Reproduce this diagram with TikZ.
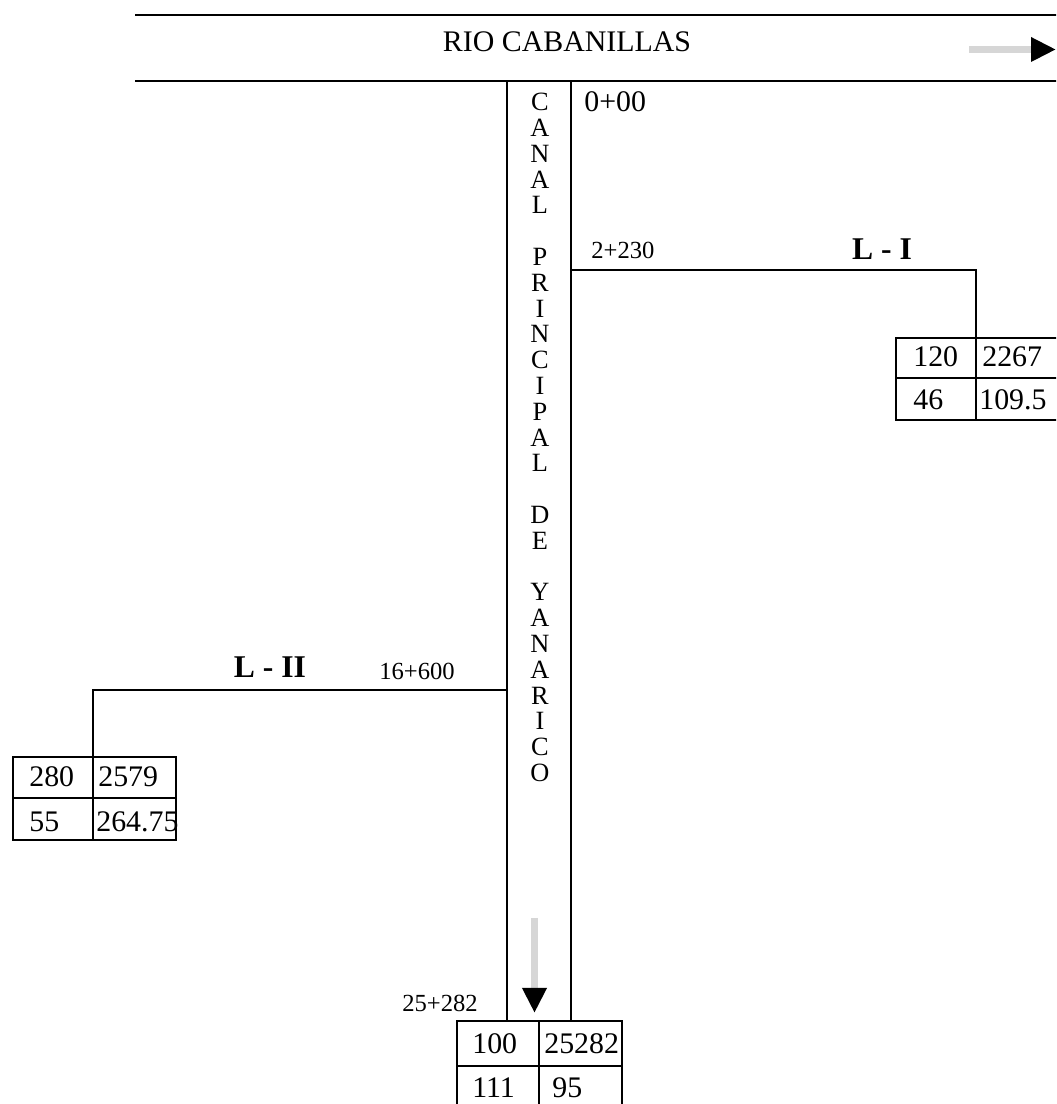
\documentclass[tikz,border=0pt]{standalone}
\usepackage{fontspec}
\setmainfont{Liberation Serif}
\usetikzlibrary{arrows.meta}

\begin{document}
\begin{tikzpicture}[line width=1.5pt, every node/.style={inner sep=0pt, font=\fontsize{17pt}{20pt}\selectfont},
	km/.style={font=\fontsize{14pt}{16pt}\selectfont},
	lat/.style={font=\bfseries\fontsize{18pt}{20pt}\selectfont},
	letra/.style={font=\fontsize{15pt}{16pt}\selectfont},
	flow/.style={line width=0.14cm, black!16, -{Triangle[length=0.5cm, width=0.46cm, black]}}]
	\path[use as bounding box, clip] (0,0) rectangle (21.12,22.08);
	% rio
	\draw (2.70,21.78) -- (21.3,21.78);
	\draw (2.70,20.46) -- (21.3,20.46);
	\node (rio) at (11.34,21.25) {RIO CABANILLAS};
	\coordinate (r0) at (19.38,21.09);
	\coordinate (r1) at (21.12,21.09);
	\draw[flow] (r0) -- (r1);
	% canal principal
	\coordinate (cl0) at (10.14,20.46);
	\coordinate (cr0) at (11.42,20.46);
	\coordinate (cl1) at (10.14,1.66);
	\coordinate (cr1) at (11.42,1.66);
	\draw (cl0) -- (cl1);
	\draw (cr0) -- (cr1);
	\foreach \c [count=\i from 0] in {C,A,N,A,L,{},P,R,I,N,C,I,P,A,L,{},D,E,{},Y,A,N,A,R,I,C,O}
		\node[letra] (c\i) at (10.80,{20.04-0.516*\i}) {\c};
	\coordinate (f0) at (10.69,3.72);
	\coordinate (f1) at (10.69,1.82);
	\draw[flow] (f0) -- (f1);
	\node[anchor=west] (k0) at (11.66,20.04) {0+00};
	% lateral I
	\coordinate (a1) at (11.42,16.68);
	\coordinate (b1) at (19.52,16.68);
	\coordinate (t1) at (19.52,15.32);
	\draw (a1) -- (b1) -- (t1);
	\node[km, anchor=west] (k1) at (11.80,17.08) {2+230};
	\node[lat] (l1) at (17.64,17.10) {L - I};
	\draw (17.92,13.68) rectangle (21.3,15.32);
	\draw (17.92,14.52) -- (21.3,14.52);
	\draw (19.52,13.68) -- (19.52,15.32);
	\node[anchor=west] (q1) at (18.24,14.94) {120};
	\node[anchor=west] (s1) at (19.62,14.94) {2267};
	\node[anchor=west] (h1) at (18.24,14.08) {46};
	\node[anchor=west] (v1) at (19.56,14.08) {109.5};
	% lateral II
	\coordinate (a2) at (10.14,8.28);
	\coordinate (b2) at (1.86,8.28);
	\coordinate (t2) at (1.86,6.94);
	\draw (a2) -- (b2) -- (t2);
	\node[km, anchor=west] (k2) at (7.56,8.66) {16+600};
	\node[lat] (l2) at (5.40,8.74) {L - II};
	\draw (0.26,5.28) rectangle (3.52,6.94);
	\draw (0.26,6.12) -- (3.52,6.12);
	\draw (1.86,5.28) -- (1.86,6.94);
	\node[anchor=west] (q2) at (0.56,6.54) {280};
	\node[anchor=west] (s2) at (1.94,6.54) {2579};
	\node[anchor=west] (h2) at (0.56,5.64) {55};
	\node[anchor=west] (v2) at (1.90,5.64) {264.75};
	% final del canal
	\node[km, anchor=west] (k3) at (8.02,2.02) {25+282};
	\draw (9.14,-0.3) rectangle (12.44,1.66);
	\draw (9.14,0.76) -- (12.44,0.76);
	\draw (10.78,-0.3) -- (10.78,1.66);
	\node[anchor=west] (q3) at (9.42,1.20) {100};
	\node[anchor=west] (s3) at (10.86,1.20) {25282};
	\node[anchor=west] (h3) at (9.42,0.32) {111};
	\node[anchor=west] (v3) at (11.02,0.32) {95};
\end{tikzpicture}
\end{document}
